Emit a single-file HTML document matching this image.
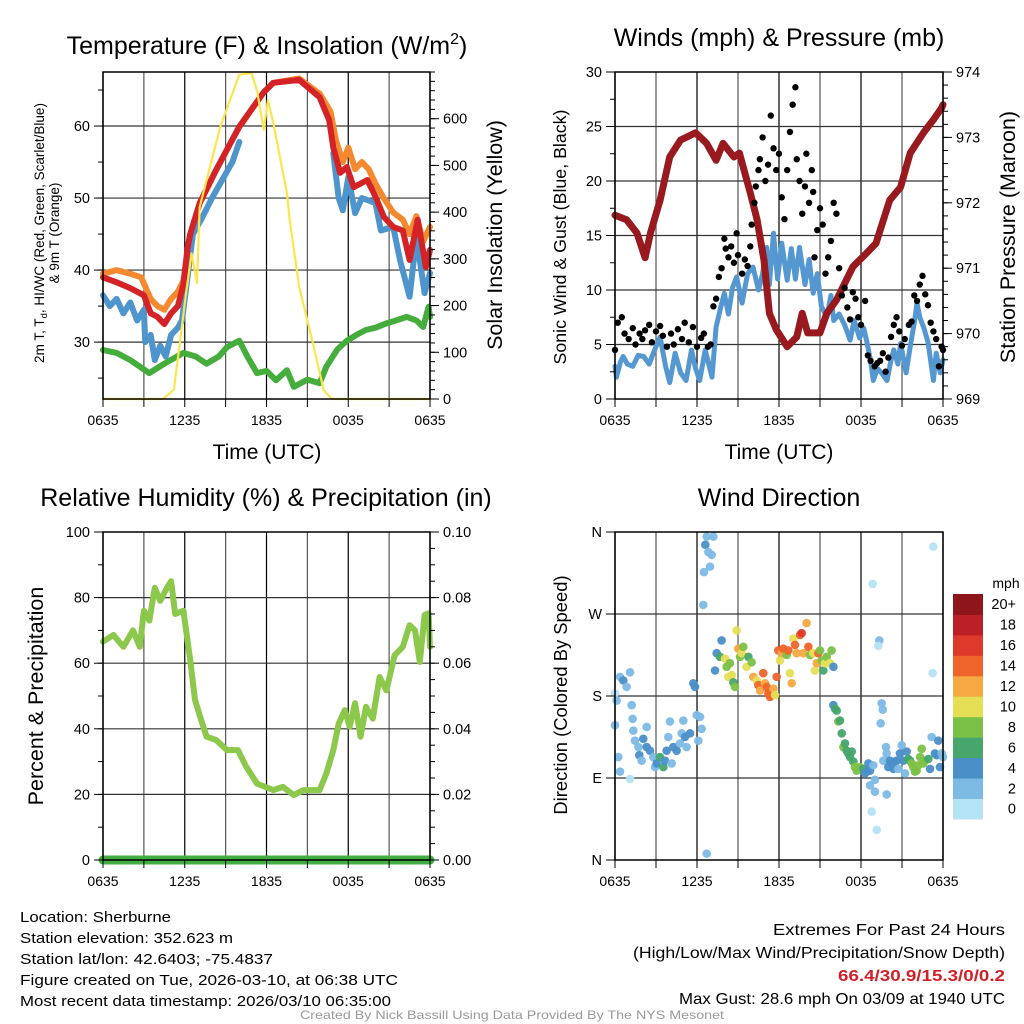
<!DOCTYPE html>
<html><head><meta charset="utf-8"><title>Sherburne Meteogram</title>
<style>
html,body{margin:0;padding:0;background:#fff;width:1024px;height:1024px;overflow:hidden}
svg{display:block;font-family:"Liberation Sans",sans-serif}
</style></head>
<body>
<svg id="chart" xmlns="http://www.w3.org/2000/svg" width="1024" height="1024" viewBox="0 0 1024 1024">
<rect x="0" y="0" width="1024" height="1024" fill="#fff"/>
<g id="grids"></g>
<g id="series"></g>
<g id="axes"></g>
<g font-size="25" text-anchor="middle" fill="#000">
<text x="267" y="54">Temperature (F) &amp; Insolation (W/m<tspan font-size="16" dy="-10">2</tspan><tspan dy="10">)</tspan></text>
<text x="779" y="46">Winds (mph) &amp; Pressure (mb)</text>
<text x="266" y="506">Relative Humidity (%) &amp; Precipitation (in)</text>
<text x="779" y="506">Wind Direction</text>
</g>
<g font-size="21.5" text-anchor="middle">
<text x="267" y="459" font-size="21">Time (UTC)</text>
<text x="779" y="459" font-size="21">Time (UTC)</text>
<text transform="translate(44,233) rotate(-90)" font-size="13.5">2m T, T<tspan font-size="9.5" dy="3">d</tspan><tspan dy="-3">, HI/WC (Red, Green, Scarlet/Blue)</tspan></text>
<text transform="translate(59,233) rotate(-90)" font-size="13.5">&amp; 9m T (Orange)</text>
<text transform="translate(502,235) rotate(-90)">Solar Insolation (Yellow)</text>
<text transform="translate(566,237) rotate(-90)" font-size="17.8">Sonic Wind &amp; Gust (Blue, Black)</text>
<text transform="translate(1015,237) rotate(-90)">Station Pressure (Maroon)</text>
<text transform="translate(43,696) rotate(-90)">Percent &amp; Precipitation</text>
<text transform="translate(567,695) rotate(-90)" font-size="18.4">Direction (Colored By Speed)</text>
</g>
<g id="colorbar">
<text x="1006" y="588" font-size="14" text-anchor="middle">mph</text>
</g>
<g font-size="15" fill="#000">
<text x="20" y="922" textLength="151" lengthAdjust="spacingAndGlyphs">Location: Sherburne</text>
<text x="20" y="943" textLength="213" lengthAdjust="spacingAndGlyphs">Station elevation: 352.623 m</text>
<text x="20" y="964" textLength="253" lengthAdjust="spacingAndGlyphs">Station lat/lon: 42.6403; -75.4837</text>
<text x="20" y="985" textLength="378" lengthAdjust="spacingAndGlyphs">Figure created on Tue, 2026-03-10, at 06:38 UTC</text>
<text x="20" y="1006" textLength="371" lengthAdjust="spacingAndGlyphs">Most recent data timestamp: 2026/03/10 06:35:00</text>
</g>
<g font-size="16" text-anchor="end">
<text x="1005" y="935" textLength="232" lengthAdjust="spacingAndGlyphs">Extremes For Past 24 Hours</text>
<text x="1005" y="958" textLength="372" lengthAdjust="spacingAndGlyphs">(High/Low/Max Wind/Precipitation/Snow Depth)</text>
<text x="1005" y="981" fill="#d02027" font-weight="bold" textLength="167" lengthAdjust="spacingAndGlyphs">66.4/30.9/15.3/0/0.2</text>
<text x="1005" y="1004" textLength="326" lengthAdjust="spacingAndGlyphs">Max Gust: 28.6 mph On 03/09 at 1940 UTC</text>
</g>
<text x="512" y="1019" font-size="12" fill="#999" text-anchor="middle" textLength="424" lengthAdjust="spacingAndGlyphs">Created By Nick Bassill Using Data Provided By The NYS Mesonet</text>
</svg>
<script>
// ===== Data (hours since 0635 UTC) =====
const timeLabels = ["0635","1235","1835","0035","0635"];
const tempTicks = [30,40,50,60];
const solarTicks = [0,100,200,300,400,500,600];
const windTicks = [0,5,10,15,20,25,30];
const presTicks = [969,970,971,972,973,974];
const rhTicks = [0,20,40,60,80,100];
const precipTicks = ["0.00","0.02","0.04","0.06","0.08","0.10"];
const dirLabels = ["N","E","S","W","N"];
const speedBins = ["0","2","4","6","8","10","12","14","16","18","20+"];
const speedColors = ["#b5e3f6","#7dbbe5","#4a8fc8","#46a66c","#7cc147","#e5df55","#f6a843","#ef6429","#de3a2b","#bd1f26","#8e1519"];

const tempH = [0,1,2,3,3.5,4,4.5,5,5.5,5.9,6.2,6.4,7.1,8.3,10,11.8,12.5,14.4,15.9,16.6,16.9,17.4,17.9,18.4,18.9,19.4,20,20.6,21.3,22,22.5,23.1,23.7,24];
const tempV = [39,38.3,37.5,36.5,34,33.5,32.5,34,35,38,43,45,49.3,53.9,59.9,64.7,66,66.4,64,60.8,57,53.5,54.3,51.5,52,52.5,50.2,47.4,46,45.5,41.4,47,40.4,42.8];
const t9H = [0,1,2,2.8,3.5,4,4.5,5,5.5,5.9,6.4,7.1,8.3,10,11.8,12.5,14.4,15.9,16.7,17.1,17.6,18,18.5,19,19.5,20,20.6,21.3,22,22.5,23,23.5,24];
const t9V = [39.5,40,39.5,39,36,35,34.5,36,37,38.5,45,49.3,53.9,59.9,64.7,66,66.6,64.5,62,58,55,57,54,55,54,52,50,48,47,45,47.5,44,46];
const wcH = [0,0.5,1,1.5,2,2.5,3,3.1,3.5,3.8,4.2,4.6,5,5.5,5.8,6.2,6.6,7.2,8,9.5,10];
const wcV = [36.5,35,36,34,35.5,33,34.5,30,31,27.5,29.5,28,31,32,33,39,45,47,50,55,57.8];
const wc2H = [16.9,17.3,17.6,18,18.5,19,20,20.4,21.3,21.8,22.5,23,23.6,24];
const wc2V = [56.2,50,48.3,52.9,47.9,50,49.3,45.5,46,41.4,36.3,44.6,36.8,39.6];
const tdH = [0,1,2,2.7,3.4,4.5,5.9,6.8,7.6,8.5,9.1,10,10.6,11.3,12,12.7,13.5,14,15,15.9,16.4,17.2,17.9,18.6,19.3,20,20.8,21.5,22.3,23,23.5,23.9,24];
const tdV = [28.9,28.5,27.5,26.6,25.7,27,28.5,28,27,28,29.3,30.2,28,25.7,26,24.7,26.1,23.8,24.8,24.3,26.6,29,30.2,31,31.7,32,32.6,33,33.5,33,32.1,34.9,33.5];
const solarH = [0,4.4,5.2,5.6,6.1,6.5,6.9,7.1,7.85,8.6,9.6,10,10.9,11.3,11.8,12.1,12.5,13.5,13.7,14.4,15.4,16.2,16.8,24];
const solarV = [0,0,20,111,227,312,248,411,497,582,662,694,698,660,576,640,591,441,383,240,120,19,0,0];

const presH = [0,0.85,1.6,2.2,2.6,3.3,4,4.8,5.9,6.7,7.4,7.9,8.7,9.1,9.9,10.4,10.9,11.3,11.8,12.6,13.3,13.7,14.1,15,15.5,16.2,17.4,18.4,19.1,20.1,20.9,21.6,22.6,23.3,23.9,24];
const presV = [971.81,971.74,971.54,971.16,971.54,972.04,972.7,972.96,973.07,972.91,972.65,972.91,972.7,972.76,972.15,971.74,971.12,970.31,970.06,969.8,969.95,970.31,970.01,970.01,970.31,970.51,971.02,971.23,971.38,972.04,972.24,972.76,973.08,973.27,973.45,973.5];
const windH = [0,0.1,0.4,0.6,0.9,1.3,1.7,2.1,2.5,2.8,3.3,3.7,4,4.4,4.8,5.2,5.6,5.9,6.2,6.6,7.1,7.4,7.7,8,8.3,8.6,8.9,9.3,9.7,10.1,10.5,10.8,11.1,11.3,11.6,11.9,12.2,12.6,12.9,13.2,13.5,13.9,14.2,14.5,14.8,15.1,15.5,15.8,16,16.4,16.8,17.2,17.5,17.9,18.2,18.4,18.7,18.9,19.2,19.5,19.9,20.2,20.4,20.7,20.9,21.3,21.6,21.9,22.1,22.3,22.6,22.9,23.1,23.3,23.5,23.8,24];
const windV = [3,2,3.4,3.9,3.2,3,4,3.9,3.2,4.2,5.7,3,1.5,4.2,2.4,1.7,4.5,2.8,1.7,4.5,2,6.6,8.2,9.7,7.8,10.2,11.2,8.8,11.5,12.1,10,11.5,13.9,10.5,15.2,11,14.3,10.9,13.8,11,13.9,10.5,12.8,9.7,11.5,8.5,7.5,9.5,7.2,7.8,6.8,5.4,7.2,5.6,6.5,5.4,3.5,1.7,2.8,2.4,1.7,3.6,4.5,3.2,5.1,2.4,4.8,7,8.8,7.5,6.5,5.2,3.5,1.7,4.2,2.4,3.6];
const gustH = [0,0.2,0.5,0.7,1,1.3,1.5,1.8,2,2.2,2.5,2.7,3,3.3,3.5,3.8,4.1,4.3,4.6,4.9,5.1,5.4,5.7,6,6.3,6.5,6.8,7,7.2,7.4,7.6,7.8,8,8.1,8.3,8.5,8.7,8.9,9,9.3,9.5,9.7,9.9,10,10.2,10.3,10.5,10.6,10.8,11,11.2,11.4,11.6,11.8,12,12.2,12.4,12.6,12.8,13,13.2,13.3,13.5,13.7,13.9,14,14.2,14.4,14.5,14.6,14.8,15,15.2,15.4,15.6,15.8,16,16.2,16.4,16.6,16.8,17,17.2,17.4,17.6,17.8,18,18.3,18.5,18.7,19,19.2,19.4,19.6,19.8,20,20.2,20.4,20.6,20.8,21,21.2,21.5,21.7,21.9,22.1,22.3,22.5,22.7,22.9,23.1,23.3,23.5,23.7,23.9,24];
const gustV = [4.5,7,7.5,6,5.5,6.5,5,6,5.5,6.3,6.8,5.2,6.2,6.7,5.8,4.8,6,5,6.4,5.5,7,5.2,6.6,4.8,5.6,6,4.8,5,8.5,9.2,11.2,12,14.7,13.8,13,14,12.5,15.2,13.2,11.5,12.8,12.2,14,16,18,19.5,21,22,24,20,21.5,26,23,21,22.5,18.5,16.5,21,24.5,27,28.6,22,20,17,19.5,22.5,18,21,19,13,15.5,17.5,16,11.5,13,14.5,18,17,12,9.5,10.2,8.4,7.3,9.8,9.2,7.5,6.8,9,4,3.5,3,3.3,3.5,4.2,2.5,3.8,5.7,6.8,7.5,6.2,4.9,5.5,6.8,7.1,9.5,9,10.5,11.3,9.6,8.6,7,6.2,5.5,3,4.8,4.5];

const rhH = [0,0.76,1.5,2.2,2.7,3,3.4,3.8,4.2,4.7,5,5.3,5.9,6.4,6.75,7.2,7.6,8.3,9.1,9.9,10.5,11.3,12.5,13.2,14,14.7,15.9,16.4,16.9,17.3,17.75,18.1,18.5,18.9,19.3,19.8,20.3,20.8,21.4,22,22.5,22.9,23.25,23.6,23.9,24];
const rhV = [66.6,68.6,65,70,65,76,73,83,79,83,85,75,76,61,48.8,42.7,37.6,36.6,33.5,33.5,28.5,23.3,21.3,22.3,19.8,21.3,21.3,26.4,33.5,41.6,45.7,40.6,47.8,37.6,46.7,43.1,55.8,51.7,62.4,65,71.6,70,60.4,74.7,75.2,65];
const precipH = [0,24];
const precipV = [0,0];

const dirH = [0,0.12,0.37,0.61,0.85,1.1,0.24,0,0.37,1.1,1.22,1.29,1.34,1.46,1.71,1.78,1.95,2.07,2.32,2.32,2.56,2.8,2.93,3.05,3.29,3.54,3.66,3.78,3.9,4.02,4.15,4.27,4.51,4.76,4.88,5,5.12,5.24,5.49,5.73,5.85,5.98,6.1,6.22,6.34,6.71,6.46,6.51,6.61,6.71,6.83,6.95,7.2,7.07,
7.32,7.44,7.68,7.8,8.05,8.17,8.29,8.41,8.54,8.66,8.78,8.9,9.02,9.15,9.27,9.39,9.63,9.76,10,10.12,10.37,10.49,10.61,10.85,10.98,11.1,11.22,11.34,11.46,11.59,11.71,11.83,11.95,12.07,12.2,12.32,12.56,12.68,12.8,12.93,13.05,13.17,13.29,13.54,13.66,13.78,14.02,14.15,14.27,14.51,14.63,14.76,14.88,15,15.12,15.24,15.37,15.49,15.73,15.85,15.98,
15.98,16.1,16.22,16.34,16.46,16.59,16.71,16.83,16.95,17.07,17.2,17.32,17.44,17.56,17.68,17.93,18.17,18.29,18.41,18.54,18.66,18.9,19.02,18.66,19.02,18.78,19.15,18.85,19.34,19.27,19.51,19.59,19.44,19.83,19.88,19.88,19.63,20,20.12,20.24,20.37,20.49,20.61,20.73,20.85,20.98,21.1,21.22,21.34,21.46,21.59,21.71,21.83,21.95,22.07,22.2,22.32,22.44,22.56,22.68,22.93,23.05,23.17,23.29,23.24,23.41,23.54,23.66,23.78,23.9,24];
const dirDeg = [183,175,201,197,190,206,113,148,97,89,170,155,142,131,124,115,109,133,146,124,120,113,102,106,113,102,109,120,135,152,106,124,120,128,139,153,135,124,139,194,190,159,131,157,144,7,280,316,346,355,338,322,355,335,
208,227,223,241,221,212,201,216,203,195,190,252,232,223,227,234,212,223,217,201,197,192,186,205,194,190,183,179,181,188,181,201,230,219,227,232,225,230,205,194,243,236,227,247,249,227,260,234,225,227,208,216,227,230,219,208,216,223,216,230,212,
170,166,164,152,153,139,124,128,120,117,113,119,108,102,98,102,100,95,97,106,98,104,88,82,75,53,33,303,241,235,172,165,150,124,117,72,109,102,109,106,100,108,109,100,117,126,109,95,119,111,109,106,102,97,98,104,113,122,106,109,111,100,135,344,205,117,115,131,102,117,113];
const dirSpd = [1.5,2,2,4,2,2,2,2,2,0.5,2,2,2,2,3,4,2,4,2,4,4,2,2,4,6,6,4,4,2,2,2,4,4,3,3,2,4,2,4,4,4,2,2,2,2,2,2,2,4,2,2,2,2,2,
4,4,6,4,10,8,10,8,10,6,8,10,12,8,10,8,10,6,8,12,10,14,12,14,12,14,14,14,14,12,10,14,14,10,12,14,8,14,10,12,10,14,12,14,16,12,12,14,8,10,10,12,14,8,8,6,10,8,10,8,4,
4,6,6,8,6,6,8,6,6,6,6,6,6,8,8,8,6,4,4,4,4,2,2,2,2,0.5,0.5,0.5,2,0.5,2,2,2,2,2,2,2,4,4,4,4,4,4,2,4,2,4,2,4,6,6,8,8,8,8,8,8,8,8,8,6,4,2,0.5,0.5,4,4,4,4,2,2];

// ===== Helpers =====
const NS = "http://www.w3.org/2000/svg";
const gG = document.getElementById("grids");
const gS = document.getElementById("series");
const gA = document.getElementById("axes");
const gC = document.getElementById("colorbar");
function el(tag, attrs, parent){const e=document.createElementNS(NS,tag);for(const k in attrs)e.setAttribute(k,attrs[k]);parent.appendChild(e);return e;}
function lin(d0,d1,r0,r1){return v=>r0+(v-d0)*(r1-r0)/(d1-d0);}

const panels = {
  temp:{x0:103,x1:430,y0:72,y1:399},
  wind:{x0:615,x1:943,y0:72,y1:399},
  rh:{x0:103,x1:430,y0:532,y1:860},
  dir:{x0:615,x1:943,y0:532,y1:860}
};
for(const k in panels){const p=panels[k];p.x=lin(0,24,p.x0,p.x1);}
panels.temp.yl=lin(22.1,67.5,399,72); panels.temp.yr=lin(0,700,399,72);
panels.wind.yl=lin(0,30,399,72); panels.wind.yr=lin(969,974,399,72);
panels.rh.yl=lin(0,100,860,532); panels.rh.yr=lin(0,0.1,860,532);
panels.dir.yl=lin(0,360,860,532);

function pathD(p,xs,ys,yf){let d="";for(let i=0;i<xs.length;i++){d+=(i?"L":"M")+p.x(xs[i]).toFixed(1)+","+yf(ys[i]).toFixed(1);}return d;}

function frame(p,name,hgrid,yf){
  for(let h=0;h<=24;h+=3){
    const gl=el("line",{x1:p.x(h),x2:p.x(h),y1:p.y0,y2:p.y1,stroke:(h%6===0)?"#000":"#555","stroke-width":1.2},gG);
    
    
    const tk=el("line",{x1:p.x(h),x2:p.x(h),y1:p.y1,y2:p.y1+8,stroke:"#000","stroke-width":1},gA);
    
    
  }
  hgrid.forEach(v=>{
    const gl=el("line",{x1:p.x0,x2:p.x1,y1:yf(v),y2:yf(v),stroke:"#333","stroke-width":1.2},gG);
    
    
  });
  const b=el("rect",{x:p.x0,y:p.y0,width:p.x1-p.x0,height:p.y1-p.y0,fill:"none",stroke:"#000","stroke-width":1.5},gA);
  
  
  timeLabels.forEach((t,i)=>{
    const tx=el("text",{x:p.x(i*6),y:p.y1+26,"font-size":14,"text-anchor":"middle"},gA);
    tx.textContent=t;
    
    
  });
}
function yaxis(p,name,side,vals,labels,yf,minorVals){
  const x=side==="l"?p.x0:p.x1, dir=side==="l"?-1:1;
  (minorVals||[]).forEach(v=>{
    const t=el("line",{x1:x,x2:x+dir*5,y1:yf(v),y2:yf(v),stroke:"#000","stroke-width":1},gA);
    
    
  });
  vals.forEach((v,i)=>{
    const t=el("line",{x1:x,x2:x+dir*9,y1:yf(v),y2:yf(v),stroke:"#000","stroke-width":1},gA);
    
    
    const tx=el("text",{x:x+dir*13,y:yf(v)+5,"font-size":14.5,"text-anchor":side==="l"?"end":"start"},gA);
    tx.textContent=labels[i];
    
    
  });
}
function range(a,b,s){const r=[];for(let v=a;v<=b+1e-9;v+=s)r.push(+v.toFixed(4));return r;}
function line(p,xs,ys,yf,color,w){
  return el("path",{d:pathD(p,xs,ys,yf),fill:"none",stroke:color,"stroke-width":w,"stroke-linejoin":"round","stroke-linecap":"round"},gS);
}

// ===== Temperature panel =====
const T=panels.temp;
frame(T,"temp",tempTicks,T.yl);
yaxis(T,"temp-left","l",tempTicks,tempTicks.map(String),T.yl,range(25,65,5));
yaxis(T,"solar-right","r",solarTicks,solarTicks.map(String),T.yr,range(0,700,20));
const l1=line(T,tdH,tdV,T.yl,"#45ad3c",6);


const l2=line(T,t9H,t9V,T.yl,"#f4892f",6);


const l3=line(T,wcH,wcV,T.yl,"#4e94cd",6);


const l3b=line(T,wc2H,wc2V,T.yl,"#4e94cd",6);


const l4=line(T,tempH,tempV,T.yl,"#d42327",6);


const l5=line(T,solarH,solarV,T.yr,"#fde54e",2.2);



// ===== Wind panel =====
const Wp=panels.wind;
frame(Wp,"wind",[5,10,15,20,25],Wp.yl);
yaxis(Wp,"wind-left","l",windTicks,windTicks.map(String),Wp.yl,range(0,30,2.5));
yaxis(Wp,"pressure-right","r",presTicks,presTicks.map(String),Wp.yr,range(969,974,0.2));
const wl=line(Wp,windH,windV,Wp.yl,"#5597d0",5);


const pl=line(Wp,presH,presV,Wp.yr,"#981a1e",7);


gustH.forEach((h,i)=>{
  const c=el("circle",{cx:Wp.x(h),cy:Wp.yl(gustV[i]),r:3.2,fill:"#000"},gS);
  
  
});

// ===== RH panel =====
const R=panels.rh;
frame(R,"rh",[20,40,60,80],R.yl);
yaxis(R,"rh-left","l",rhTicks,rhTicks.map(String),R.yl,range(0,100,10));
yaxis(R,"precip-right","r",precipTicks.map(Number),precipTicks,R.yr,range(0,0.1,0.005));
const rl=line(R,rhH,rhV,R.yl,"#8cc84b",6);


const pr=line(R,precipH,precipV,R.yr,"#42ad42",9);



// ===== Direction panel =====
const D=panels.dir;
const dirTicks=[0,90,180,270,360];
frame(D,"dir",[90,180,270],D.yl);
yaxis(D,"dir-left","l",dirTicks,dirLabels,D.yl,[]);
dirH.forEach((h,i)=>{
  const bin=Math.min(10,Math.floor(dirSpd[i]/2));
  const c=el("circle",{cx:D.x(h),cy:D.yl(dirDeg[i]),r:4.3,fill:speedColors[bin],"fill-opacity":0.95},gS);
  
  
});

// ===== Colorbar =====
const cbTop=594, cbH=20.45;
speedBins.forEach((lab,i)=>{
  const k=speedBins.length-1-i;
  const r=el("rect",{x:953,y:cbTop+k*cbH,width:30,height:cbH+0.5,fill:speedColors[i]},gC);
  
  
  const t=el("text",{x:1016,y:cbTop+k*cbH+cbH/2+5,"font-size":14.5,"text-anchor":"end"},gC);
  t.textContent=lab;
  
  
});
</script>
</body></html>
